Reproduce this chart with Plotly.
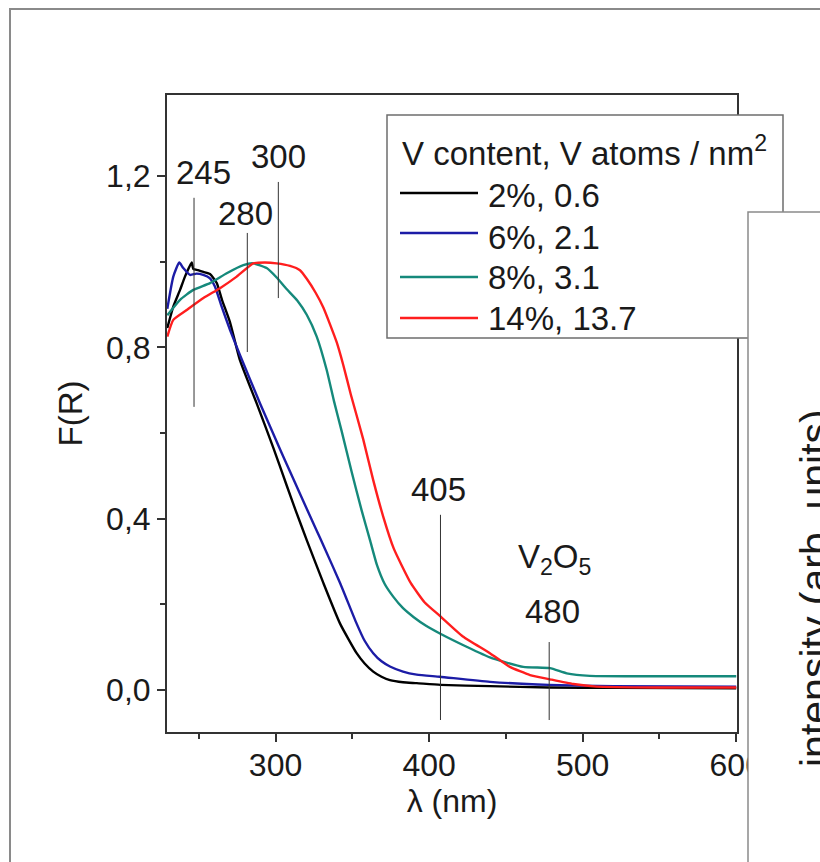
import plotly.graph_objects as go

# ---------------- data ----------------
wl_2pct = [229.5, 233.4, 237.8, 241.0, 245.4, 246.4, 249.5, 253.0, 257.3, 261.7, 265.1, 270.3,
           276.8, 287.7, 298.5, 307.2, 313.0, 320.3, 331.1, 342.0, 352.8, 358.0, 363.6, 369.0,
           374.5, 383.0, 391.9, 407.4, 439.6, 478.0, 520.0, 600.0]
fr_2pct = [0.845, 0.895, 0.934, 0.965, 0.998, 0.983, 0.980, 0.976, 0.971, 0.950, 0.911, 0.859,
           0.770, 0.669, 0.566, 0.478, 0.420, 0.350, 0.250, 0.155, 0.086, 0.062, 0.043, 0.031,
           0.023, 0.018, 0.016, 0.012, 0.009, 0.006, 0.005, 0.004]

wl_6pct = [229.5, 233.4, 237.3, 239.9, 244.3, 248.5, 252.9, 257.3, 260.5, 264.9, 270.3, 276.8,
           289.9, 302.9, 309.4, 315.9, 320.3, 326.8, 331.1, 342.0, 352.8, 358.0, 363.6, 369.0,
           374.5, 383.0, 391.9, 407.0, 439.6, 478.0, 520.0, 600.0]
fr_6pct = [0.890, 0.965, 0.998, 0.985, 0.969, 0.972, 0.969, 0.961, 0.942, 0.895, 0.841, 0.782,
           0.669, 0.562, 0.510, 0.458, 0.423, 0.372, 0.338, 0.250, 0.155, 0.115, 0.086, 0.067,
           0.055, 0.043, 0.036, 0.031, 0.019, 0.012, 0.009, 0.008]

wl_8pct = [229.5, 237.8, 246.4, 257.3, 268.2, 279.0, 285.5, 294.2, 300.7, 307.2, 314.0, 320.3,
           326.8, 333.3, 338.0, 343.0, 349.5, 356.0, 361.5, 366.0, 371.0, 376.6, 383.0, 390.0,
           398.0, 407.0, 424.4, 439.6, 461.3, 478.7, 489.6, 504.7, 550.0, 600.0]
fr_8pct = [0.875, 0.911, 0.934, 0.950, 0.973, 0.992, 0.996, 0.985, 0.963, 0.936, 0.910, 0.876,
           0.825, 0.747, 0.675, 0.605, 0.510, 0.420, 0.350, 0.292, 0.248, 0.218, 0.191, 0.170,
           0.150, 0.132, 0.101, 0.076, 0.054, 0.051, 0.039, 0.033, 0.032, 0.032]

wl_14pct = [229.5, 233.4, 242.1, 253.0, 263.8, 274.7, 285.5, 293.0, 300.7, 309.4, 315.9, 320.3,
            326.0, 331.1, 339.8, 344.0, 349.0, 357.1, 363.6, 370.1, 377.0, 382.0, 388.0, 397.0,
            407.0, 422.0, 439.6, 452.6, 465.7, 478.7, 493.9, 509.1, 550.0, 600.0]
fr_14pct = [0.825, 0.864, 0.887, 0.915, 0.938, 0.965, 0.996, 0.998, 0.996, 0.990, 0.980, 0.960,
            0.928, 0.893, 0.812, 0.760, 0.690, 0.585, 0.490, 0.405, 0.330, 0.292, 0.250, 0.205,
            0.173, 0.125, 0.086, 0.054, 0.035, 0.025, 0.014, 0.008, 0.006, 0.006]

series_labels = ["2%, 0.6", "6%, 2.1", "8%, 3.1", "14%, 13.7"]
legend_title = "V content, V atoms / nm<sup>2</sup>"

# band markers: label text, line wavelength, line bottom/top (F), label position
band_labels = ["245", "280", "300", "405", "480"]
band_line_x = [246.9, 281.6, 301.8, 407.4, 478.2]
band_line_y0 = [0.661, 0.789, 0.915, -0.070, -0.070]
band_line_y1 = [1.149, 1.067, 1.186, 0.409, 0.112]
band_label_x = [253.0, 280.7, 301.8, 406.1, 480.3]
band_label_y = [1.207, 1.113, 1.245, 0.467, 0.184]
v2o5_label = "V<sub>2</sub>O<sub>5</sub>"

x_title = "λ (nm)"
y_title = "F(R)"
side_title = "intensity (arb. units)"

# ---------------- styling ----------------
colors = ["#000000", "#1c1ca6", "#15897b", "#ff1e1e"]
FONT = "Liberation Sans, Arial, sans-serif"
TXT = "#1a1a1a"
W, H = 820, 862
L, R, T, B = 167, 737, 95, 732


def px(x):
    return (x - L) / (R - L)


def py(y):
    return (B - y) / (B - T)


fig = go.Figure()
for xs, ys, name, col in zip([wl_2pct, wl_6pct, wl_8pct, wl_14pct],
                             [fr_2pct, fr_6pct, fr_8pct, fr_14pct],
                             series_labels, colors):
    fig.add_trace(go.Scatter(x=xs, y=ys, mode="lines", name=name,
                             line=dict(color=col, width=2.4, shape="spline", smoothing=0.5),
                             showlegend=False))

shapes = []
annotations = []

# band marker lines + labels
for lab, lx, y0, y1, tx, ty in zip(band_labels, band_line_x, band_line_y0, band_line_y1,
                                   band_label_x, band_label_y):
    shapes.append(dict(type="line", xref="x", yref="y", x0=lx, x1=lx, y0=y0, y1=y1,
                       line=dict(color="#333333", width=1), layer="above"))
    annotations.append(dict(x=tx, y=ty, xref="x", yref="y", text=lab, showarrow=False,
                            xanchor="center", yanchor="middle",
                            font=dict(size=33, color=TXT, family=FONT)))
annotations.append(dict(x=481.9, y=0.305, xref="x", yref="y", text=v2o5_label, showarrow=False,
                        xanchor="center", yanchor="middle",
                        font=dict(size=33, color=TXT, family=FONT)))

# legend box (manual, so the side panel can overlap it)
shapes.append(dict(type="rect", xref="paper", yref="paper", x0=px(387), x1=px(783),
                   y0=py(338), y1=py(115), fillcolor="white",
                   line=dict(color="#6e6e6e", width=1.5), layer="above"))
annotations.append(dict(x=px(400), y=py(151), xref="paper", yref="paper", text=legend_title,
                        showarrow=False, xanchor="left", yanchor="middle",
                        font=dict(size=33, color=TXT, family=FONT)))
entry_line_y = [193, 233, 277, 318]
entry_text_y = [195, 237, 277, 318]
for lab, col, ly, ty in zip(series_labels, colors, entry_line_y, entry_text_y):
    shapes.append(dict(type="line", xref="paper", yref="paper", x0=px(400), x1=px(478),
                       y0=py(ly), y1=py(ly), line=dict(color=col, width=2.4), layer="above"))
    annotations.append(dict(x=px(486), y=py(ty), xref="paper", yref="paper", text=lab,
                            showarrow=False, xanchor="left", yanchor="middle",
                            font=dict(size=33, color=TXT, family=FONT)))

# neighbouring panel on the right
shapes.append(dict(type="rect", xref="paper", yref="paper", x0=px(748), x1=px(900),
                   y0=py(1000), y1=py(212), fillcolor="white",
                   line=dict(color="#8a8a8a", width=1.5), layer="above"))
annotations.append(dict(x=px(815), y=py(588), xref="paper", yref="paper", text=side_title,
                        showarrow=False, textangle=-90, xanchor="center", yanchor="middle",
                        font=dict(size=41, color=TXT, family=FONT)))
# outer frame
shapes.append(dict(type="rect", xref="paper", yref="paper", x0=px(10), x1=px(900),
                   y0=py(1000), y1=py(9), fillcolor="rgba(0,0,0,0)",
                   line=dict(color="#8a8a8a", width=2), layer="above"))

fig.update_layout(
    width=W, height=H,
    margin=dict(l=L, r=W - R, t=T, b=H - B, autoexpand=False),
    paper_bgcolor="white", plot_bgcolor="white",
    separators=",.",
    font=dict(family=FONT, size=32, color=TXT),
    showlegend=False,
    shapes=shapes, annotations=annotations,
)
fig.update_xaxes(
    range=[229.3, 600.5], tick0=0, dtick=100, ticks="outside", ticklen=8, tickwidth=1.5,
    tickcolor="#333333", showline=True, linecolor="#333333", linewidth=2, mirror=True,
    showgrid=False, zeroline=False, tickfont=dict(size=32, color=TXT, family=FONT),
    ticklabelstandoff=-4,
    minor=dict(ticks="outside", ticklen=5, dtick=50, tick0=0, tickcolor="#333333",
               tickwidth=1.5, showgrid=False),
    title=dict(text=x_title, standoff=0, font=dict(size=32, color=TXT, family=FONT)),
    automargin=False,
)
fig.update_yaxes(
    range=[-0.098, 1.389], tick0=0, dtick=0.4, tickformat=".1f", ticks="outside", ticklen=8,
    tickwidth=1.5, tickcolor="#333333", showline=True, linecolor="#333333", linewidth=2,
    mirror=True, showgrid=False, zeroline=False, tickfont=dict(size=32, color=TXT, family=FONT),
    minor=dict(ticks="outside", ticklen=5, dtick=0.2, tick0=0, tickcolor="#333333",
               tickwidth=1.5, showgrid=False),
    title=dict(text=y_title, standoff=14, font=dict(size=33, color=TXT, family=FONT)),
    automargin=False,
)

fig.write_html("out.html", config={"displayModeBar": False},
               post_script="document.body.style.margin='0px';")
